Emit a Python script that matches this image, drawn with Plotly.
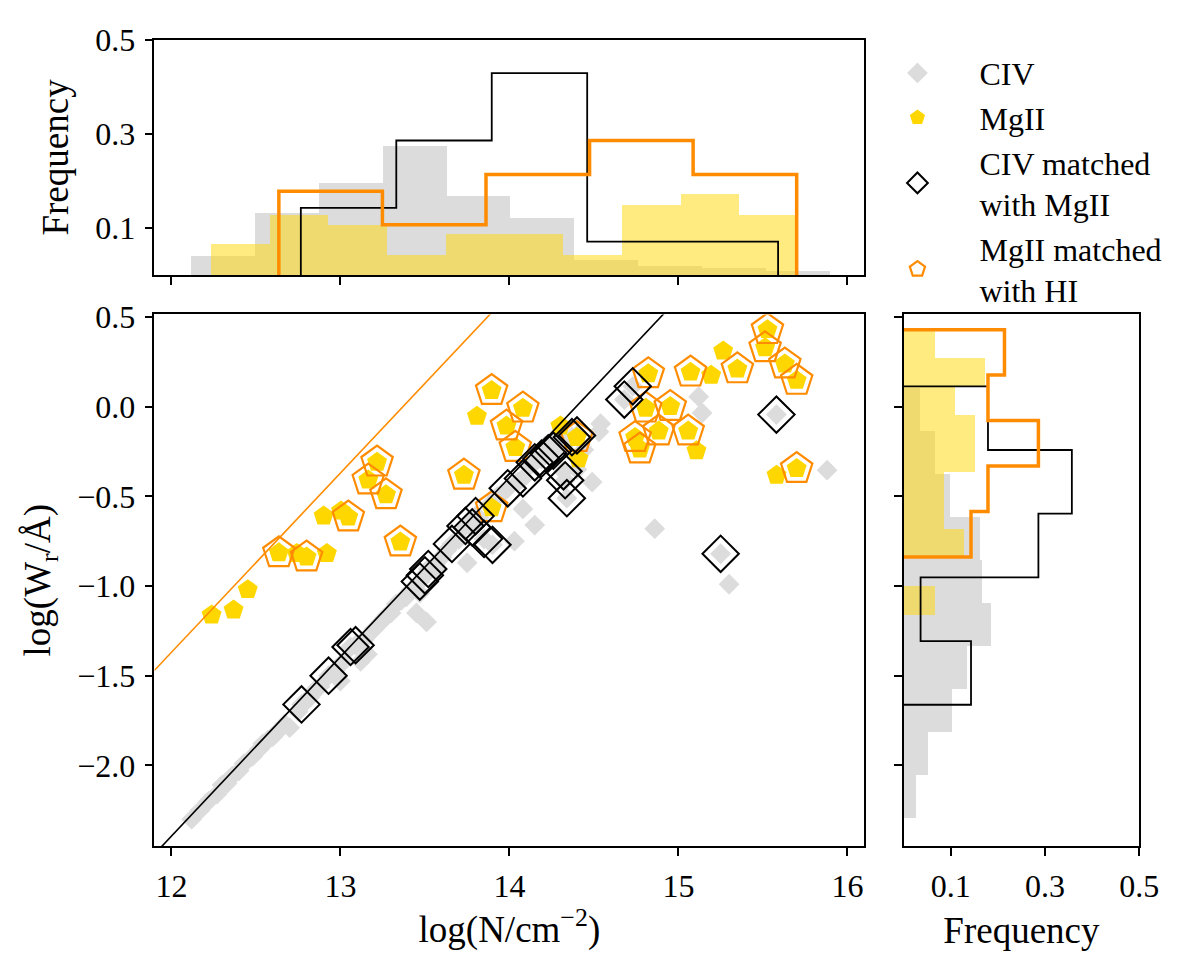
import numpy as np
import plotly.graph_objects as go

FONT = "Liberation Serif"

# CIV absorbers: log column density (cm^-2) and log rest equivalent width (A)
civ_logn = [12.12, 12.17, 12.22, 12.27, 12.30, 12.36, 12.40, 12.43, 12.48, 12.52,
            12.54, 12.60, 12.62, 12.67, 12.70, 12.75, 12.77, 12.80, 12.85, 12.88,
            12.93, 12.97, 13.00, 13.02, 13.06, 13.09, 13.12, 13.14, 13.16, 13.20,
            13.24, 13.26, 13.30, 13.33, 13.36, 13.39, 13.42, 13.45, 13.47, 13.47,
            13.50, 13.51, 13.52, 13.56, 13.60, 13.63, 13.66, 13.70, 13.74, 13.75,
            13.78, 13.80, 13.82, 13.85, 13.88, 13.90, 13.93, 13.96, 13.99, 14.03,
            14.05, 14.08, 14.08, 14.12, 14.15, 14.15, 14.19, 14.21, 14.23, 14.26,
            14.28, 14.32, 14.33, 14.34, 14.37, 14.40, 14.40, 14.44, 14.49, 14.53,
            14.54, 14.68, 14.73, 14.86, 15.12, 15.14, 15.25, 15.30, 15.58, 15.88,
            12.33, 12.57, 12.82, 13.28, 13.57]
civ_logw = [-2.30, -2.25, -2.20, -2.16, -2.11, -2.06, -2.03, -1.99, -1.95, -1.91,
            -1.88, -1.84, -1.82, -1.77, -1.79, -1.70, -1.66, -1.64, -1.58, -1.56,
            -1.50, -1.47, -1.53, -1.42, -1.34, -1.33, -1.42, -1.30, -1.38, -1.24,
            -1.20, -1.18, -1.15, -1.10, -1.08, -1.06, -1.02, -1.15, -1.04, -0.975,
            -0.94, -1.20, -0.905, -0.88, -0.84, -0.80, -0.765, -0.74, -0.665, -0.87,
            -0.673, -0.61, -0.62, -0.737, -0.55, -0.77, -0.50, -0.48, -0.455, -0.75,
            -0.42, -0.40, -0.57, -0.33, -0.31, -0.66, -0.29, -0.22, -0.26, -0.245,
            -0.18, -0.36, -0.41, -0.51, -0.17, -0.16, -0.35, -0.24, -0.42, -0.14,
            -0.095, 0.04, 0.114, -0.68, 0.056, -0.035, -0.82, -0.99, -0.044, -0.354,
            -2.10, -1.86, -1.62, -1.16, -0.90]

# CIV matched with MgII
civ_mg_logn = [12.77, 12.93, 13.06, 13.09, 13.47, 13.50, 13.52, 13.66, 13.74, 13.78,
               13.80, 13.85, 13.90, 13.99, 14.08, 14.15, 14.19, 14.23, 14.26, 14.32,
               14.33, 14.34, 14.37, 14.40, 14.68, 14.73, 15.25, 15.58]
civ_mg_logw = [-1.66, -1.50, -1.34, -1.33, -0.975, -0.94, -0.905, -0.765, -0.665, -0.673,
               -0.61, -0.737, -0.77, -0.455, -0.40, -0.31, -0.29, -0.26, -0.245, -0.36,
               -0.41, -0.51, -0.17, -0.16, 0.04, 0.114, -0.82, -0.044]

# MgII absorbers
mgii_logn = [12.238, 12.368, 12.452, 12.636, 12.742, 12.800, 12.920, 12.901, 13.004, 13.047,
             13.165, 13.217, 13.270, 13.355, 13.731, 13.808, 13.895, 13.983, 14.035, 14.080,
             13.895, 14.302, 14.399, 14.409, 14.744, 14.772, 14.807, 14.822, 14.884, 14.952,
             15.058, 15.107, 15.072, 15.194, 15.265, 15.349, 15.513, 15.527, 15.630, 15.700,
             15.581, 15.700]
mgii_logw = [-1.162, -1.133, -1.020, -0.815, -0.819, -0.838, -0.819, -0.609, -0.582, -0.615,
             -0.409, -0.309, -0.491, -0.755, -0.382, -0.053, 0.090, -0.108, -0.227, -0.008,
             -0.564, -0.108, -0.172, -0.290, -0.172, -0.236, -0.008, 0.184, -0.136, 0.001,
             -0.136, -0.245, 0.193, 0.175, 0.311, 0.211, 0.329, 0.430, 0.238, 0.147,
             -0.382, -0.345]

# MgII matched with HI
mgii_hi_logn = [12.636, 12.800, 13.047, 13.165, 13.217, 13.270, 13.355, 13.731, 13.895, 13.983,
                14.035, 14.080, 13.895, 14.399, 14.744, 14.772, 14.807, 14.822, 14.884, 14.952,
                15.058, 15.072, 15.349, 15.513, 15.527, 15.630, 15.700, 15.700]
mgii_hi_logw = [-0.815, -0.838, -0.615, -0.409, -0.309, -0.491, -0.755, -0.382, 0.090, -0.108,
                -0.227, -0.008, -0.564, -0.172, -0.172, -0.236, -0.008, 0.184, -0.136, 0.001,
                -0.136, 0.193, 0.211, 0.329, 0.430, 0.238, 0.147, -0.345]

# linear part of the curve of growth: log W = log N + const
CIV_COG = -14.395
MGII_COG = -13.37

# normalised histograms: (low edge, high edge), frequencies
civ_n_span, civ_n_freq = (12.118, 15.90), [0.042, 0.133, 0.197, 0.274, 0.169, 0.121, 0.033, 0.019, 0.015, 0.010]
mgii_n_span, mgii_n_freq = (12.238, 15.71), [0.066, 0.128, 0.108, 0.044, 0.087, 0.087, 0.044, 0.150, 0.172, 0.128]
civ_mg_n_span, civ_mg_n_freq = (12.766, 15.59), [0.143, 0.286, 0.429, 0.071, 0.071]
mgii_hi_n_span, mgii_hi_n_freq = (12.636, 15.70), [0.178, 0.107, 0.214, 0.286, 0.214]

civ_w_span, civ_w_freq = (-2.293, 0.102), [0.025, 0.051, 0.102, 0.133, 0.184, 0.166, 0.162, 0.097, 0.066, 0.033]
mgii_w_span, mgii_w_freq = (-1.162, 0.43), [0.066, 0.0, 0.128, 0.085, 0.085, 0.151, 0.151, 0.108, 0.172, 0.066]
civ_mg_w_span, civ_mg_w_freq = (-1.662, 0.114), [0.143, 0.036, 0.286, 0.357, 0.179]
mgii_hi_w_span, mgii_hi_w_freq = (-0.838, 0.43), [0.143, 0.179, 0.286, 0.179, 0.214]

X_RANGE = [11.9, 16.1]
Y_RANGE = [-2.45, 0.515]

GRAY = "#dcdcdc"
GOLD = "#ffd700"
GOLD_HIST = "rgba(255,215,0,0.5)"
ORANGE = "#ff8c00"

# page body keeps its default 8px margin, so the figure is that much smaller
PAGE_W, PAGE_H, BODY = 1200, 959, 8
W, H = PAGE_W - 2 * BODY, PAGE_H - 2 * BODY


def px_x(p):
    return (p - BODY) / W


def px_y(p):
    return 1 - (p - BODY) / H


def edges(span, freq):
    return np.linspace(span[0], span[1], len(freq) + 1)


def step_outline(span, freq):
    e = edges(span, freq)
    pos, val = [e[0]], [0.0]
    for i, f in enumerate(freq):
        pos += [e[i], e[i + 1]]
        val += [f, f]
    pos.append(e[-1])
    val.append(0.0)
    return pos, val


def filled_bars(span, freq, color, horizontal=False):
    e = edges(span, freq)
    centers = (e[:-1] + e[1:]) / 2
    width = e[1] - e[0]
    if horizontal:
        return go.Bar(x=freq, y=centers, width=width, orientation="h",
                      marker=dict(color=color, line=dict(width=0)),
                      xaxis="x3", yaxis="y3", showlegend=False, hoverinfo="skip")
    return go.Bar(x=centers, y=freq, width=width,
                  marker=dict(color=color, line=dict(width=0)),
                  xaxis="x2", yaxis="y2", showlegend=False, hoverinfo="skip")


def step_trace(span, freq, color, lw, horizontal=False):
    pos, val = step_outline(span, freq)
    if horizontal:
        return go.Scatter(x=val, y=pos, mode="lines", line=dict(color=color, width=lw),
                          xaxis="x3", yaxis="y3", showlegend=False, hoverinfo="skip")
    return go.Scatter(x=pos, y=val, mode="lines", line=dict(color=color, width=lw),
                      xaxis="x2", yaxis="y2", showlegend=False, hoverinfo="skip")


fig = go.Figure()

# top histogram: column densities
fig.add_trace(filled_bars(civ_n_span, civ_n_freq, GRAY))
fig.add_trace(filled_bars(mgii_n_span, mgii_n_freq, GOLD_HIST))
fig.add_trace(step_trace(civ_mg_n_span, civ_mg_n_freq, "black", 1.8))
fig.add_trace(step_trace(mgii_hi_n_span, mgii_hi_n_freq, ORANGE, 3.5))

# right histogram: equivalent widths
fig.add_trace(filled_bars(civ_w_span, civ_w_freq, GRAY, horizontal=True))
fig.add_trace(filled_bars(mgii_w_span, mgii_w_freq, GOLD_HIST, horizontal=True))
fig.add_trace(step_trace(civ_mg_w_span, civ_mg_w_freq, "black", 1.8, horizontal=True))
fig.add_trace(step_trace(mgii_hi_w_span, mgii_hi_w_freq, ORANGE, 3.5, horizontal=True))

# main panel
fig.add_trace(go.Scatter(x=civ_logn, y=civ_logw, mode="markers", name="CIV",
                         marker=dict(symbol="diamond", size=16, color=GRAY, line=dict(width=0)),
                         legendrank=1))
fig.add_trace(go.Scatter(x=mgii_logn, y=mgii_logw, mode="markers", name="MgII",
                         marker=dict(symbol="pentagon", size=21, color=GOLD, line=dict(width=0)),
                         legendrank=2))
fig.add_trace(go.Scatter(x=mgii_hi_logn, y=mgii_hi_logw, mode="markers",
                         name="MgII matched<br>with HI",
                         marker=dict(symbol="pentagon-open", size=33, color=ORANGE,
                                     line=dict(width=2.2, color=ORANGE)),
                         legendrank=4))
fig.add_trace(go.Scatter(x=civ_mg_logn, y=civ_mg_logw, mode="markers",
                         name="CIV matched<br>with MgII",
                         marker=dict(symbol="diamond-open", size=28, color="black",
                                     line=dict(width=2, color="black")),
                         legendrank=3))

cog_x = np.array(X_RANGE)
fig.add_trace(go.Scatter(x=cog_x, y=cog_x + MGII_COG, mode="lines",
                         line=dict(color=ORANGE, width=1.6), showlegend=False, hoverinfo="skip"))
fig.add_trace(go.Scatter(x=cog_x, y=cog_x + CIV_COG, mode="lines",
                         line=dict(color="black", width=1.6), showlegend=False, hoverinfo="skip"))

axis_style = dict(showline=True, mirror=True, linecolor="black", linewidth=1.6,
                  ticks="outside", ticklen=8, tickwidth=1.6, tickcolor="black",
                  showgrid=False, zeroline=False, ticklabelstandoff=3,
                  tickfont=dict(family=FONT, size=32, color="black"))
title_font = dict(family=FONT, size=37, color="black")

main_x = [px_x(157), px_x(879)]
main_y = [px_y(844), px_y(302)]

fig.update_layout(
    width=W, height=H,
    margin=dict(l=0, r=0, t=0, b=0),
    paper_bgcolor="white", plot_bgcolor="white",
    font=dict(family=FONT, size=32, color="black"),
    barmode="overlay", bargap=0,
    xaxis=dict(axis_style, domain=main_x, range=X_RANGE, tickvals=[12, 13, 14, 15, 16],
               title=dict(text="log(N/cm<sup>−2</sup>)", font=title_font), anchor="y"),
    yaxis=dict(axis_style, domain=main_y, range=Y_RANGE,
               tickvals=[-2.0, -1.5, -1.0, -0.5, 0.0, 0.5], tickformat=".1f",
               title=dict(text="log(W<sub>r</sub>/Å)", font=title_font), anchor="x"),
    xaxis2=dict(axis_style, domain=main_x, matches="x", showticklabels=False, anchor="y2",
                tickvals=[12, 13, 14, 15, 16]),
    yaxis2=dict(axis_style, domain=[px_y(262), px_y(22)], range=[0, 0.5],
                tickvals=[0.1, 0.3, 0.5],
                title=dict(text="Frequency", font=title_font), anchor="x2"),
    xaxis3=dict(axis_style, domain=[px_x(919), px_x(1158.7)], range=[0, 0.5],
                tickvals=[0.1, 0.3, 0.5],
                title=dict(text="Frequency", font=title_font), anchor="y3"),
    yaxis3=dict(axis_style, domain=main_y, matches="y", showticklabels=False, anchor="x3",
                tickvals=[-2.0, -1.5, -1.0, -0.5, 0.0, 0.5]),
    legend=dict(x=px_x(870), y=px_y(28), xanchor="left", yanchor="top",
                font=dict(family=FONT, size=32, color="black"),
                bgcolor="rgba(0,0,0,0)", itemwidth=114, traceorder="normal"),
)

fig.write_html("out.html")
